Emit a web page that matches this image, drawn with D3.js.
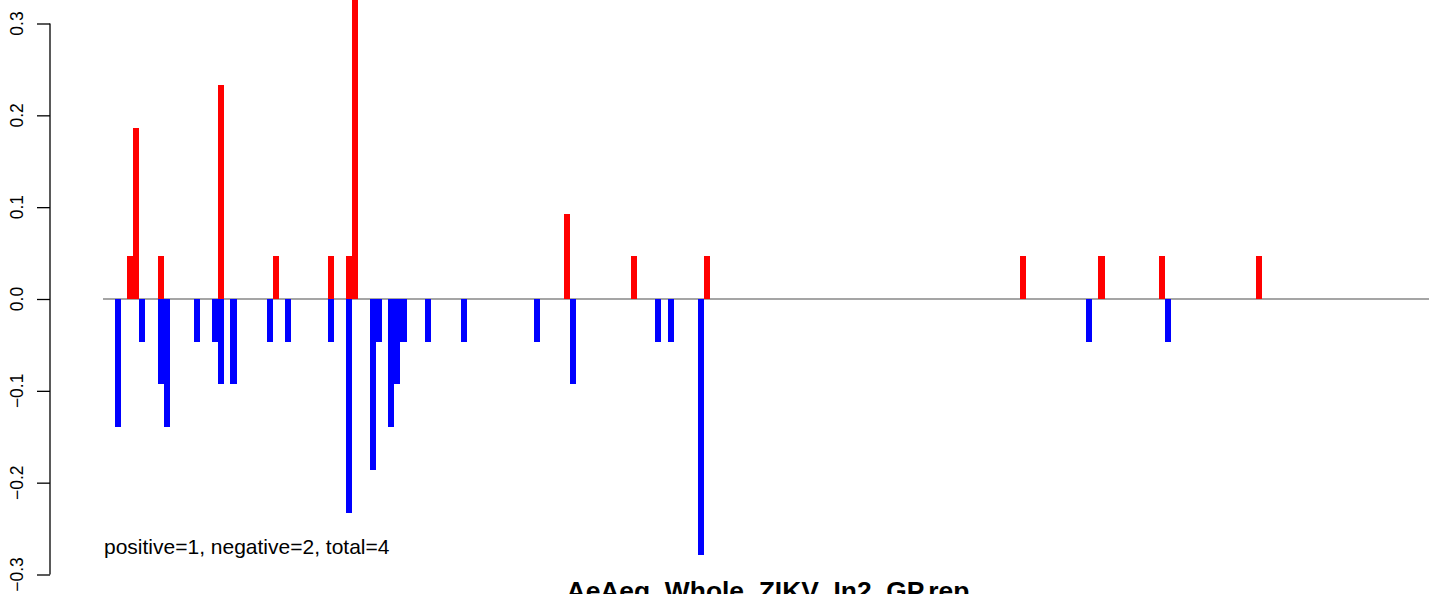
<!DOCTYPE html>
<html>
<head>
<meta charset="utf-8">
<script src="https://cdn.jsdelivr.net/npm/d3@7"></script>
<style>
  html, body { margin: 0; padding: 0; background: #fff; }
  svg { display: block; }
</style>
</head>
<body>
<script>
// Bin index of each plotted bin
const bins = [0,2,3,4,7,8,13,16,17,19,25,26,28,35,38,39,42,43,45,46,47,51,57,69,74,75,85,89,91,96,97,149,160,162,172,173,188];
// Positive (red) series value per bin
const positiveValues = [0,0.0465,0.186,0,0.0465,0,0,0,0.2325,0,0,0.0465,0,0.0465,0.0465,0.372,0,0,0,0,0,0,0,0,0.093,0,0.0465,0,0,0,0.0465,0.0465,0,0.0465,0.0465,0,0.0465];
// Negative (blue) series value per bin
const negativeValues = [-0.1395,0,0,-0.0465,-0.093,-0.1395,-0.0465,-0.0465,-0.093,-0.093,-0.0465,0,-0.0465,-0.0465,-0.2325,0,-0.186,-0.0465,-0.1395,-0.093,-0.0465,-0.0465,-0.0465,-0.0465,0,-0.093,0,-0.0465,-0.0465,-0.279,0,0,-0.0465,0,0,-0.0465,0];
const yTicks = [-0.3,-0.2,-0.1,0.0,0.1,0.2,0.3];
const tickLabels = ["\u22120.3","\u22120.2","\u22120.1","0.0","0.1","0.2","0.3"];
const annotation = "positive=1, negative=2, total=4";
const title = "AeAeg_Whole_ZIKV_In2_GP.rep";

const W = 1429, H = 594;
const svg = d3.select("body").append("svg").attr("width", W).attr("height", H);

const x = d3.scaleLinear().domain([-2, 217]).range([103, 103 + 219 * 6.07]);
const y = d3.scaleLinear().domain([-0.3, 0.3]).range([574.5, 23.5]);

// zero line
svg.append("line")
  .attr("x1", x(-2)).attr("x2", W)
  .attr("y1", y(0)).attr("y2", y(0))
  .attr("stroke", "#4d4d4d").attr("stroke-width", 1.1);

const data = bins.map((b, i) => ({ b, p: positiveValues[i], n: negativeValues[i] }));

svg.append("g").selectAll("rect.neg")
  .data(data.filter(d => d.n < 0)).join("rect")
  .attr("x", d => x(d.b)).attr("width", d => x(d.b + 1) - x(d.b))
  .attr("y", y(0)).attr("height", d => y(d.n) - y(0))
  .attr("fill", "#0000ff").attr("shape-rendering", "crispEdges");

svg.append("g").selectAll("rect.pos")
  .data(data.filter(d => d.p > 0)).join("rect")
  .attr("x", d => x(d.b)).attr("width", d => x(d.b + 1) - x(d.b))
  .attr("y", d => y(d.p)).attr("height", d => y(0) - y(d.p))
  .attr("fill", "#ff0000").attr("shape-rendering", "crispEdges");

// y axis
const axisG = svg.append("g").attr("transform", "translate(50,0)");
axisG.call(d3.axisLeft(y).tickValues(yTicks).tickSize(13).tickFormat(""));
axisG.select(".domain").attr("d", `M0,${y(-0.3)}V${y(0.3)}`).attr("stroke", "#000").attr("stroke-width", 1.3);
axisG.selectAll(".tick line").attr("stroke", "#000").attr("stroke-width", 1.3);

svg.append("g").selectAll("text")
  .data(yTicks).join("text")
  .attr("transform", (d) => `translate(23,${y(d)}) rotate(-90)`)
  .attr("text-anchor", "middle")
  .attr("font-family", "Liberation Sans, Arial, sans-serif")
  .attr("font-size", 17.5)
  .attr("fill", "#000")
  .text((d, i) => tickLabels[i]);

svg.append("text")
  .attr("x", 104).attr("y", 554)
  .attr("font-family", "Liberation Sans, Arial, sans-serif")
  .attr("font-size", 21)
  .attr("fill", "#000")
  .text(annotation);

svg.append("text")
  .attr("x", 768).attr("y", 600)
  .attr("text-anchor", "middle")
  .attr("font-family", "Liberation Sans, Arial, sans-serif")
  .attr("font-weight", "bold")
  .attr("font-size", 26.4)
  .attr("fill", "#000")
  .text(title);
</script>
</body>
</html>
